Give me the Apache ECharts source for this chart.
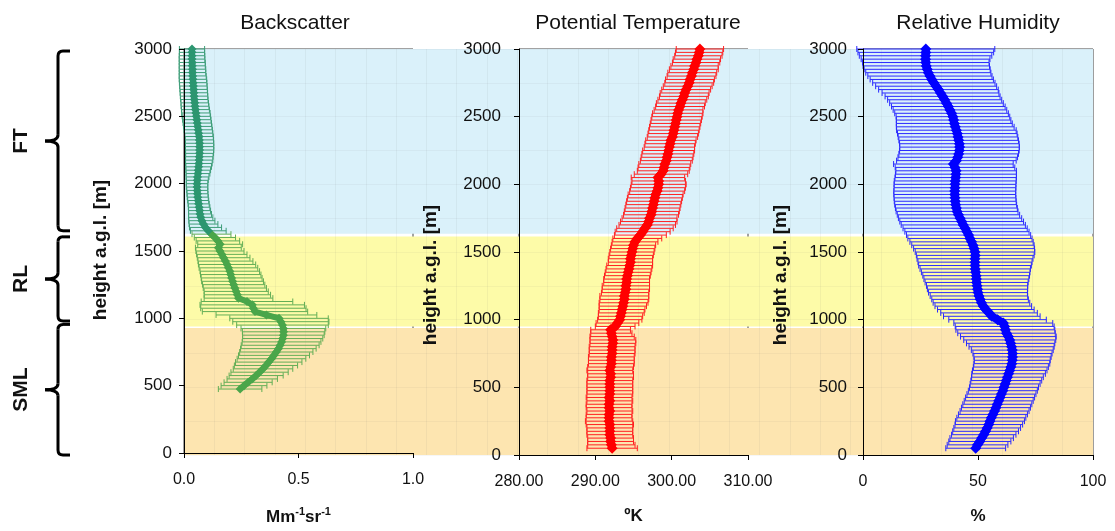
<!DOCTYPE html>
<html>
<head>
<meta charset="utf-8">
<title>Backscatter / Potential Temperature / Relative Humidity</title>
<script src="https://cdn.jsdelivr.net/npm/echarts@6.0.0/dist/echarts.min.js"></script>
<style>
html, body { margin: 0; padding: 0; background: #ffffff; }
#main { width: 1115px; height: 531px; }
</style>
</head>
<body>
<div id="main"></div>
<script>
// sounding levels [m a.g.l.]
var heights = [
    50, 75, 100, 125, 150, 175, 200, 225, 250, 275,
    300, 325, 350, 375, 400, 425, 450, 475, 500, 525,
    550, 575, 600, 625, 650, 675, 700, 725, 750, 775,
    800, 825, 850, 875, 900, 925, 950, 975, 1000, 1025,
    1050, 1075, 1100, 1125, 1150, 1175, 1200, 1225, 1250, 1275,
    1300, 1325, 1350, 1375, 1400, 1425, 1450, 1475, 1500, 1525,
    1550, 1575, 1600, 1625, 1650, 1675, 1700, 1725, 1750, 1775,
    1800, 1825, 1850, 1875, 1900, 1925, 1950, 1975, 2000, 2025,
    2050, 2075, 2100, 2125, 2150, 2175, 2200, 2225, 2250, 2275,
    2300, 2325, 2350, 2375, 2400, 2425, 2450, 2475, 2500, 2525,
    2550, 2575, 2600, 2625, 2650, 2675, 2700, 2725, 2750, 2775,
    2800, 2825, 2850, 2875, 2900, 2925, 2950, 2975, 3000
];
// backscatter only starts at 475 m
var bsHeights = heights.slice(17);

// Backscatter [Mm-1 sr-1]
var bsMean = [
    0.245, 0.262, 0.280, 0.298, 0.315, 0.330, 0.345, 0.358, 0.370, 0.382,
    0.393, 0.403, 0.412, 0.420, 0.426, 0.431, 0.434, 0.435, 0.434, 0.430,
    0.423, 0.415, 0.360, 0.310, 0.303, 0.298, 0.275, 0.238, 0.233, 0.228,
    0.222, 0.217, 0.212, 0.208, 0.204, 0.200, 0.194, 0.188, 0.181, 0.173,
    0.165, 0.157, 0.150, 0.158, 0.148, 0.135, 0.120, 0.106, 0.094, 0.085,
    0.078, 0.073, 0.070, 0.068, 0.066, 0.064, 0.062, 0.060, 0.059, 0.058,
    0.057, 0.057, 0.058, 0.059, 0.061, 0.062, 0.064, 0.065, 0.066, 0.067,
    0.068, 0.068, 0.068, 0.068, 0.067, 0.066, 0.064, 0.062, 0.060, 0.058,
    0.056, 0.054, 0.052, 0.050, 0.048, 0.047, 0.045, 0.044, 0.043, 0.042,
    0.041, 0.040, 0.039, 0.038, 0.037, 0.037, 0.036, 0.036, 0.035, 0.035,
    0.035, 0.035
];
var bsErr = [
    0.095, 0.100, 0.105, 0.110, 0.118, 0.125, 0.130, 0.138, 0.145, 0.150,
    0.155, 0.160, 0.165, 0.170, 0.172, 0.175, 0.178, 0.180, 0.185, 0.200,
    0.210, 0.215, 0.220, 0.230, 0.230, 0.228, 0.200, 0.150, 0.145, 0.140,
    0.138, 0.136, 0.135, 0.133, 0.132, 0.130, 0.128, 0.125, 0.120, 0.115,
    0.110, 0.105, 0.100, 0.098, 0.095, 0.090, 0.085, 0.078, 0.070, 0.063,
    0.057, 0.053, 0.050, 0.048, 0.047, 0.046, 0.046, 0.046, 0.046, 0.046,
    0.047, 0.047, 0.048, 0.050, 0.052, 0.054, 0.056, 0.058, 0.060, 0.060,
    0.061, 0.062, 0.062, 0.062, 0.062, 0.062, 0.062, 0.062, 0.062, 0.062,
    0.062, 0.062, 0.062, 0.061, 0.061, 0.060, 0.060, 0.060, 0.060, 0.060,
    0.060, 0.060, 0.060, 0.059, 0.058, 0.058, 0.057, 0.057, 0.056, 0.056,
    0.055, 0.055
];

// Potential temperature [K]
var thetaMean = [
    292.2, 292.1, 292.0, 292.0, 291.9, 291.9, 291.9, 291.9, 291.8, 291.8,
    291.8, 291.9, 291.8, 291.8, 291.9, 291.8, 291.9, 291.9, 291.9, 291.9,
    291.9, 292.0, 292.0, 291.9, 292.0, 292.1, 292.1, 292.1, 292.2, 292.2,
    292.2, 292.3, 292.3, 292.2, 292.1, 292.0, 292.6, 292.9, 293.2, 293.3,
    293.4, 293.5, 293.6, 293.7, 293.8, 293.8, 293.9, 294.0, 294.0, 294.1,
    294.1, 294.2, 294.3, 294.4, 294.5, 294.6, 294.6, 294.7, 294.8, 294.9,
    295.0, 295.2, 295.5, 295.9, 296.2, 296.5, 296.8, 297.0, 297.1, 297.3,
    297.4, 297.5, 297.6, 297.7, 297.8, 297.9, 298.1, 298.2, 298.3, 298.3,
    298.2, 298.6, 298.9, 299.0, 299.1, 299.3, 299.4, 299.5, 299.6, 299.7,
    299.8, 299.9, 300.1, 300.2, 300.3, 300.4, 300.5, 300.6, 300.7, 300.8,
    300.9, 301.1, 301.2, 301.4, 301.6, 301.7, 301.9, 302.1, 302.3, 302.4,
    302.6, 302.7, 302.9, 303.0, 303.2, 303.3, 303.5, 303.6, 303.7
];
var thetaErr = [
    3.3, 3.1, 3.0, 3.0, 3.0, 3.0, 3.0, 3.1, 3.1, 3.0,
    3.0, 3.0, 3.0, 3.0, 3.0, 3.0, 3.0, 3.0, 3.0, 3.0,
    3.0, 3.0, 3.0, 3.0, 3.0, 3.0, 3.0, 3.0, 3.0, 3.0,
    3.0, 3.0, 3.0, 2.9, 2.7, 2.6, 2.6, 2.8, 2.9, 2.9,
    3.0, 3.0, 3.1, 3.2, 3.2, 3.2, 3.1, 3.1, 3.1, 3.0,
    3.0, 3.0, 3.0, 3.0, 3.0, 2.9, 2.9, 2.9, 2.9, 2.9,
    2.9, 3.0, 3.2, 3.4, 3.6, 3.7, 3.7, 3.7, 3.6, 3.6,
    3.6, 3.6, 3.6, 3.6, 3.6, 3.6, 3.6, 3.6, 3.6, 3.5,
    3.5, 3.5, 3.4, 3.4, 3.4, 3.4, 3.4, 3.4, 3.4, 3.3,
    3.3, 3.3, 3.3, 3.3, 3.3, 3.3, 3.3, 3.3, 3.3, 3.3,
    3.2, 3.2, 3.2, 3.2, 3.2, 3.2, 3.2, 3.2, 3.2, 3.2,
    3.2, 3.2, 3.2, 3.1, 3.1, 3.1, 3.1, 3.1, 3.1
];

// Relative humidity [%]
var rhMean = [
    49.0, 49.8, 50.8, 51.6, 52.5, 53.3, 54.0, 54.7, 55.2, 55.8,
    56.5, 57.2, 57.8, 58.4, 59.0, 59.6, 60.2, 60.8, 61.3, 61.8,
    62.3, 62.8, 63.3, 63.8, 64.3, 64.7, 64.9, 65.0, 65.0, 64.9,
    64.6, 64.2, 63.8, 63.2, 62.4, 61.9, 61.6, 61.0, 58.5, 56.0,
    54.8, 53.4, 52.3, 51.5, 50.9, 50.4, 50.0, 49.8, 49.6, 49.4,
    49.3, 49.2, 49.0, 48.8, 48.7, 48.7, 48.7, 48.8, 48.7, 48.3,
    47.8, 47.2, 46.5, 45.9, 45.2, 44.4, 43.6, 42.9, 42.2, 41.5,
    40.9, 40.6, 40.3, 40.1, 40.0, 39.9, 39.9, 40.0, 40.0, 40.1,
    40.3, 40.4, 40.5, 40.0, 39.3, 40.6, 41.2, 41.6, 41.9, 42.0,
    41.9, 41.6, 41.3, 41.0, 40.6, 40.1, 39.7, 39.4, 39.1, 38.5,
    37.8, 37.1, 36.3, 35.5, 34.6, 33.7, 32.8, 31.8, 30.8, 29.9,
    29.1, 28.4, 27.9, 27.5, 27.3, 27.2, 27.2, 27.3, 27.3
];
var rhErr = [
    13.0, 13.2, 13.5, 13.8, 14.0, 14.3, 14.5, 14.7, 15.0, 15.0,
    15.0, 15.0, 15.0, 15.0, 15.0, 15.0, 15.0, 15.0, 15.0, 15.2,
    15.4, 15.6, 16.0, 16.2, 16.3, 16.5, 16.5, 16.8, 17.2, 17.8,
    18.5, 19.2, 20.0, 20.8, 21.2, 21.5, 21.5, 21.5, 21.2, 21.0,
    21.0, 21.0, 21.0, 21.0, 21.0, 21.2, 21.5, 21.8, 22.0, 22.4,
    22.8, 23.2, 23.6, 24.0, 24.5, 24.8, 25.2, 25.6, 26.0, 26.3,
    26.6, 26.8, 27.0, 27.0, 27.0, 27.0, 27.0, 26.9, 26.8, 26.6,
    26.5, 26.5, 26.5, 26.5, 26.5, 26.5, 26.5, 26.5, 26.5, 26.5,
    26.4, 26.3, 26.2, 26.0, 26.0, 26.0, 26.0, 26.0, 26.0, 26.0,
    26.0, 26.0, 26.0, 26.0, 26.0, 25.6, 25.2, 24.9, 24.7, 24.7,
    24.7, 24.7, 24.7, 24.8, 25.0, 25.4, 26.0, 26.3, 26.6, 26.8,
    27.0, 27.2, 27.4, 27.5, 27.5, 28.0, 28.8, 29.5, 30.0
];

// boundary layer structure (free troposphere, residual layer, surface mixed layer)
var layerNames = ['FT', 'RL', 'SML'];
var layerTop = [2985, 1605, 955];
var layerBottom = [1650, 980, -15];
var bandFrom = [1635, 950, 0];
var bandTo = [3000, 1615, 938];

var FONT = 'Liberation Sans';

function errorBars(idx, hts, means, errs, colorFn) {
    return {
        type: 'custom',
        xAxisIndex: idx,
        yAxisIndex: idx,
        z: 4,
        clip: false,
        silent: true,
        animation: false,
        data: hts.map(function (h, i) { return [means[i] - errs[i], means[i] + errs[i], h]; }),
        encode: { x: [0, 1], y: 2 },
        renderItem: function (params, api) {
            var h = api.value(2);
            var lo = api.coord([api.value(0), h]);
            var hi = api.coord([api.value(1), h]);
            var st = { stroke: colorFn(h), lineWidth: 1 };
            return {
                type: 'group',
                children: [
                    { type: 'line', shape: { x1: lo[0], y1: lo[1], x2: hi[0], y2: hi[1] }, style: st },
                    { type: 'line', shape: { x1: lo[0], y1: lo[1] - 3, x2: lo[0], y2: lo[1] + 3 }, style: st },
                    { type: 'line', shape: { x1: hi[0], y1: hi[1] - 3, x2: hi[0], y2: hi[1] + 3 }, style: st }
                ]
            };
        }
    };
}

function meanLine(idx, hts, means, width, size, lineColor, symColor) {
    return {
        type: 'line',
        xAxisIndex: idx,
        yAxisIndex: idx,
        z: 5,
        clip: false,
        silent: true,
        animation: false,
        data: hts.map(function (h, i) { return [means[i], h]; }),
        symbol: 'diamond',
        symbolSize: size,
        showSymbol: true,
        lineStyle: { width: width, color: lineColor },
        itemStyle: { color: symColor }
    };
}

function bsBarColor(h) { return h >= 1640 ? '#3d9d78' : '#62ae55'; }

function yAxisFor(idx, margin) {
    return {
        gridIndex: idx,
        type: 'value',
        min: 0,
        max: 3000,
        interval: 500,
        z: 6,
        axisLine: { show: true, lineStyle: { color: '#000', width: 1 } },
        axisTick: { show: true, length: 5, lineStyle: { color: '#000' } },
        axisLabel: {
            margin: margin, color: '#111', fontFamily: FONT, fontSize: 17,
            formatter: function (v) { return String(v); }
        },
        splitLine: { show: false }
    };
}

function xAxisFor(idx, min, max, interval, digits, name, rich) {
    return {
        gridIndex: idx,
        type: 'value',
        min: min,
        max: max,
        interval: interval,
        z: 6,
        axisLine: { show: true, lineStyle: { color: '#000', width: 1 } },
        axisTick: { show: true, length: 5, lineStyle: { color: '#000' } },
        axisLabel: {
            margin: 19, color: '#111', fontFamily: FONT, fontSize: 16,
            formatter: function (v) { return v.toFixed(digits); }
        },
        splitLine: { show: false },
        name: name,
        nameLocation: 'middle',
        nameGap: 53,
        nameTextStyle: { fontFamily: FONT, fontSize: 17, fontWeight: 'bold', color: '#111', rich: rich }
    };
}

var chart = echarts.init(document.getElementById('main'), null, { renderer: 'canvas' });

var bandColors = ['#daf1fa', '#fdfba8', '#fde5b0'];

var option = {
    animation: false,
    backgroundColor: '#ffffff',
    title: [
        { text: 'Backscatter', left: 290, top: 8, textAlign: 'center',
          textStyle: { fontFamily: FONT, fontSize: 21, fontWeight: 'normal', color: '#111' } },
        { text: 'Potential Temperature', left: 633, top: 8, textAlign: 'center',
          textStyle: { fontFamily: FONT, fontSize: 21, fontWeight: 'normal', color: '#111' } },
        { text: 'Relative Humidity', left: 973, top: 8, textAlign: 'center',
          textStyle: { fontFamily: FONT, fontSize: 21, fontWeight: 'normal', color: '#111' } }
    ],
    grid: [
        { left: 184, top: 49, width: 229, height: 406, show: true, borderColor: '#444', borderWidth: 1 },
        { left: 519, top: 49, width: 229, height: 406, show: true, borderColor: '#444', borderWidth: 1 },
        { left: 863, top: 49, width: 230, height: 406, show: true, borderColor: '#444', borderWidth: 1 },
        { left: 184, top: 49, width: 909, height: 406, show: false }
    ],
    xAxis: [
        xAxisFor(0, 0, 1, 0.5, 1, '{b|Mm}{s|-1}{b|sr}{s|-1}', {
            b: { fontFamily: FONT, fontSize: 17, fontWeight: 'bold', color: '#111', verticalAlign: 'bottom', lineHeight: 20 },
            s: { fontFamily: FONT, fontSize: 11, fontWeight: 'bold', color: '#111', verticalAlign: 'top', lineHeight: 20 }
        }),
        xAxisFor(1, 280, 310, 10, 2, 'ºK'),
        xAxisFor(2, 0, 100, 50, 0, '%'),
        {
            gridIndex: 3, type: 'value', min: 0, max: 30, interval: 1, z: 3,
            axisLine: { show: false }, axisTick: { show: false }, axisLabel: { show: false },
            splitLine: { show: true, lineStyle: { color: 'rgba(110,110,110,0.08)', width: 1 } }
        }
    ],
    yAxis: [
        yAxisFor(0, 12),
        yAxisFor(1, 18),
        yAxisFor(2, 16),
        {
            gridIndex: 3, type: 'value', min: 0, max: 3000, interval: 250, z: 3,
            axisLine: { show: false }, axisTick: { show: false }, axisLabel: { show: false },
            splitLine: { show: true, lineStyle: { color: 'rgba(110,110,110,0.06)', width: 1 } }
        }
    ],
    series: [
        {
            type: 'scatter',
            xAxisIndex: 3,
            yAxisIndex: 3,
            z: 1,
            silent: true,
            symbolSize: 0,
            data: [[0, 0]],
            markArea: {
                silent: true,
                data: bandFrom.map(function (f, i) {
                    return [{ yAxis: f, itemStyle: { color: bandColors[i] } }, { yAxis: bandTo[i] }];
                })
            }
        },
        errorBars(0, bsHeights, bsMean, bsErr, bsBarColor),
        meanLine(0, bsHeights, bsMean, 6, 9,
            new echarts.graphic.LinearGradient(0, 0, 0, 1, [
                { offset: 0, color: '#2c9670' },
                { offset: 0.52, color: '#2f9a6c' },
                { offset: 0.56, color: '#4aa64a' },
                { offset: 1, color: '#4aa64a' }
            ]),
            function (p) { return p.data[1] >= 1640 ? '#2c9670' : '#4aa64a'; }),
        errorBars(1, heights, thetaMean, thetaErr, function () { return '#ff2020'; }),
        meanLine(1, heights, thetaMean, 8, 11, '#ff0000', '#ff0000'),
        errorBars(2, heights, rhMean, rhErr, function () { return '#2a2aff'; }),
        meanLine(2, heights, rhMean, 8, 11, '#0000ff', '#0000ff')
    ]
};

chart.setOption(option);

// annotations: y-axis names, layer braces and their labels
function braceParts(x, yTop, yBot) {
    var yMid = (yTop + yBot) / 2;
    var st = { stroke: '#000', lineWidth: 3, fill: null };
    function seg(x1, y1, x2, y2) {
        return { type: 'line', silent: true, shape: { x1: x1, y1: y1, x2: x2, y2: y2 }, style: st };
    }
    function curve(x1, y1, cx, cy, x2, y2) {
        return { type: 'bezierCurve', silent: true,
                 shape: { x1: x1, y1: y1, cpx1: cx, cpy1: cy, x2: x2, y2: y2 }, style: st };
    }
    return [
        seg(x + 12, yTop, x + 5, yTop),
        curve(x + 5, yTop, x, yTop, x, yTop + 5),
        seg(x, yTop + 5, x, yMid - 6),
        curve(x, yMid - 6, x, yMid, x - 13, yMid),
        curve(x - 13, yMid, x, yMid, x, yMid + 6),
        seg(x, yMid + 6, x, yBot - 5),
        curve(x, yBot - 5, x, yBot, x + 5, yBot),
        seg(x + 5, yBot, x + 12, yBot)
    ];
}

var graphics = [];
[[101, 250], [431, 275], [781, 275]].forEach(function (pos) {
    graphics.push({
        type: 'text', x: pos[0], y: pos[1], rotation: Math.PI / 2, silent: true, z: 10,
        style: { text: 'height a.g.l. [m]', fontFamily: FONT, fontSize: 19, fontWeight: 'bold',
                 fill: '#111', align: 'center', verticalAlign: 'middle' }
    });
});
layerNames.forEach(function (name, i) {
    var yTop = chart.convertToPixel({ gridIndex: 0 }, [0, layerTop[i]])[1];
    var yBot = chart.convertToPixel({ gridIndex: 0 }, [0, layerBottom[i]])[1];
    braceParts(58, yTop, yBot).forEach(function (g) { graphics.push(g); });
    graphics.push({
        type: 'text', x: 21, y: (yTop + yBot) / 2, rotation: Math.PI / 2, silent: true,
        style: { text: name, fontFamily: FONT, fontSize: 21, fontWeight: 'bold',
                 fill: '#111', align: 'center', verticalAlign: 'middle' }
    });
});
chart.setOption({ graphic: graphics });
</script>
</body>
</html>
